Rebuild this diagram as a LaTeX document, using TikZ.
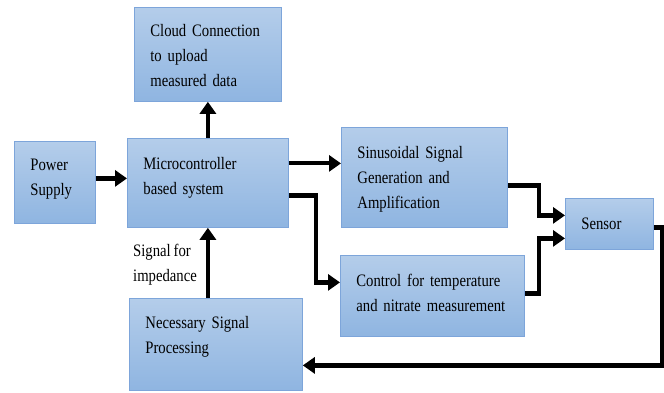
\documentclass[tikz,border=0pt]{standalone}
\usepackage{fontspec}
\setmainfont{Liberation Serif}[FakeStretch=0.84]
\usetikzlibrary{arrows.meta}
\definecolor{boxtop}{RGB}{180,205,234}
\definecolor{boxbot}{RGB}{143,181,225}
\definecolor{boxline}{RGB}{125,165,218}
\newcommand{\boxtext}[2]{\begin{tabular}{@{}l@{}}#1\\[#2]\end{tabular}}
\newcommand{\diagfont}{\fontsize{17.5}{25}\selectfont\spaceskip=0.17em plus 0.05em\relax}
\tikzset{
  box/.style={draw=boxline, line width=0.8pt, top color=boxtop, bottom color=boxbot,
    anchor=north west, inner xsep=16pt, inner ysep=0pt, align=left,
    font=\diagfont},
  arr/.style={line width=4.2pt, line join=miter, -{Triangle[length=12pt,width=16pt]}},
  lbl/.style={font=\diagfont, align=left, inner sep=0pt}
}
\begin{document}
\begin{tikzpicture}[x=1pt,y=-1pt]
\useasboundingbox[fill=white] (0,0) rectangle (664,393);
\node[box, minimum width=147pt, minimum height=94pt, text width=115pt] (cloud) at (134,7) {\boxtext{Cloud Connection\\to upload\\measured data}{-4pt}};
\node[box, minimum width=81pt, minimum height=82pt, text width=49pt] (power) at (14,141) {\boxtext{Power\\Supply}{8pt}};
\node[box, minimum width=161pt, minimum height=89pt, text width=129pt] (micro) at (127,138) {\boxtext{Microcontroller\\based system}{12pt}};
\node[box, minimum width=166pt, minimum height=100pt, text width=134pt] (sin) at (341,127) {\boxtext{Sinusoidal Signal\\Generation and\\Amplification}{-2pt}};
\node[box, minimum width=88pt, minimum height=51pt, text width=56pt] (sensor) at (565,198) {Sensor};
\node[box, minimum width=184pt, minimum height=81pt, text width=152pt] (ctrl) at (340,255) {\boxtext{Control for temperature\\and nitrate measurement}{4pt}};
\node[box, minimum width=173pt, minimum height=92pt, text width=141pt] (nsp) at (129,298) {\boxtext{Necessary Signal\\Processing}{16pt}};
\node[lbl, anchor=west] (siglbl) at (133,265) {Signal for\\impedance};

\coordinate (a1) at ([yshift=4pt]power.east);
\draw[arr] (a1) -- (a1 -| micro.west);
\draw[arr] (micro.north) -- (cloud.south);
\coordinate (b1) at ([yshift=19.5pt]micro.east);
\draw[arr] (b1) -- (b1 -| sin.west);
\coordinate (b2) at ([yshift=-12.5pt]micro.east);
\coordinate (b3) at ([yshift=13.5pt]ctrl.west);
\draw[arr] (b2) -- ++(27,0) |- (b3);
\coordinate (c1) at ([yshift=-8pt]sin.east);
\coordinate (c2) at ([yshift=8.5pt]sensor.west);
\draw[arr] (c1) -- ++(31,0) |- (c2);
\coordinate (d1) at ([yshift=2.5pt]ctrl.east);
\coordinate (d2) at ([yshift=-14.5pt]sensor.west);
\draw[arr] (d1) -- ++(14,0) |- (d2);
\coordinate (e1) at ([yshift=-3.5pt]sensor.east);
\coordinate (e2) at ([yshift=-21pt]nsp.east);
\draw[arr] (e1) -- ++(8,0) |- (e2);
\draw[arr] (micro.south |- nsp.north) -- (micro.south);
\end{tikzpicture}
\end{document}
